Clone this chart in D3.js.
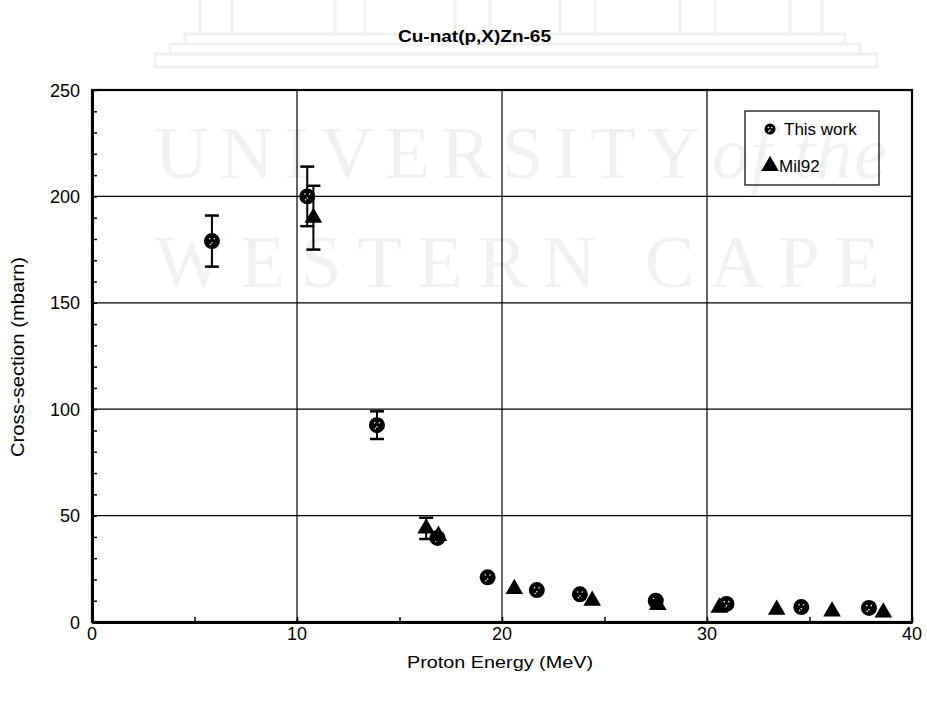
<!DOCTYPE html>
<html>
<head>
<meta charset="utf-8">
<script src="https://cdn.jsdelivr.net/npm/d3@7/dist/d3.min.js"></script>
<style>
  html, body { margin: 0; padding: 0; background: #fff; }
  svg { display: block; }
  text { font-family: Arial, "Liberation Sans", sans-serif; fill: #000; }
  text.wm { font-family: "Liberation Serif", "DejaVu Serif", serif; fill: #f1f1f4; }
</style>
</head>
<body>
<svg id="chart" width="927" height="704"></svg>
<script>
// Cu-nat(p,X)Zn-65 excitation function
const chartTitle = "Cu-nat(p,X)Zn-65";
const xTitle = "Proton Energy (MeV)";
const yTitle = "Cross-section (mbarn)";

const xTicks = [0, 10, 20, 30, 40];
const yTicks = [0, 50, 100, 150, 200, 250];

// This work: energy (MeV), cross-section (mbarn), uncertainty (mbarn)
const thisWorkE   = [5.85, 10.5, 13.9, 16.85, 19.3, 21.7, 23.8, 27.5, 30.95, 34.6, 37.9];
const thisWorkXS  = [179, 200, 92.5, 39.5, 21, 15, 13, 10, 8.5, 7, 6.6];
const thisWorkErr = [12, 14, 6.5, 0, 0, 0, 0, 0, 0, 0, 0];

// Mil92
const milE   = [10.8, 16.3, 16.9, 20.6, 24.4, 27.6, 30.6, 33.4, 36.1, 38.6];
const milXS  = [190, 44, 40.5, 15.5, 10, 8, 6.8, 5.8, 5, 4.5];
const milErr = [15, 5, 0, 0, 0, 0, 0, 0, 0, 0];

const legendLabels = ["This work", "Mil92"];

const svg = d3.select("#chart");
const plot = { left: 92, right: 912, top: 90, bottom: 622 };

const x = d3.scaleLinear().domain([0, 40]).range([plot.left, plot.right]);
const y = d3.scaleLinear().domain([0, 250]).range([plot.bottom, plot.top]);

// faint university watermark behind the chart
const wm = svg.append("g").attr("fill", "none").attr("stroke", "#f1f1f4").attr("stroke-width", 3);
[[200, 232], [335, 365], [455, 490], [560, 595], [680, 715], [790, 822]].forEach(([a, b]) => {
  wm.append("line").attr("x1", a).attr("x2", a).attr("y1", 0).attr("y2", 34);
  wm.append("line").attr("x1", b).attr("x2", b).attr("y1", 0).attr("y2", 34);
});
wm.append("rect").attr("x", 185).attr("y", 34).attr("width", 660).attr("height", 10);
wm.append("rect").attr("x", 170).attr("y", 44).attr("width", 690).attr("height", 10);
wm.append("rect").attr("x", 155).attr("y", 54).attr("width", 722).attr("height", 13);

const wmText = svg.append("g");
wmText.append("text").attr("class", "wm").attr("x", 155).attr("y", 178).attr("textLength", 545)
  .attr("lengthAdjust", "spacing").style("font-size", "74px").text("UNIVERSITY");
wmText.append("text").attr("class", "wm").attr("x", 712).attr("y", 178).attr("textLength", 175)
  .attr("lengthAdjust", "spacing").style("font-size", "74px").style("font-style", "italic").text("of the");
wmText.append("text").attr("class", "wm").attr("x", 155).attr("y", 287).attr("textLength", 725)
  .attr("lengthAdjust", "spacing").style("font-size", "74px").text("WESTERN  CAPE");

// gridlines
const grid = svg.append("g").attr("stroke", "#000").attr("stroke-width", 1.2);
[10, 20, 30].forEach(v => {
  grid.append("line").attr("x1", x(v)).attr("x2", x(v)).attr("y1", plot.top).attr("y2", plot.bottom);
});
[50, 100, 150, 200].forEach(v => {
  grid.append("line").attr("x1", plot.left).attr("x2", plot.right).attr("y1", y(v)).attr("y2", y(v));
});

// plot frame
svg.append("rect")
  .attr("x", plot.left).attr("y", plot.top)
  .attr("width", plot.right - plot.left).attr("height", plot.bottom - plot.top)
  .attr("fill", "none").attr("stroke", "#000").attr("stroke-width", 2.2);

// axes with inward minor ticks
const xAxis = d3.axisBottom(x).tickValues(d3.range(0, 41, 5)).tickSizeInner(-5).tickSizeOuter(0).tickFormat("");
svg.append("g").attr("transform", `translate(0,${plot.bottom})`).call(xAxis)
  .call(g => g.select(".domain").attr("stroke-width", 3))
  .call(g => g.selectAll(".tick line").attr("stroke-width", 1.5));

const yAxis = d3.axisLeft(y).tickValues(d3.range(0, 251, 10)).tickSizeInner(-5).tickSizeOuter(0).tickFormat("");
svg.append("g").attr("transform", `translate(${plot.left},0)`).call(yAxis)
  .call(g => g.select(".domain").attr("stroke-width", 3))
  .call(g => g.selectAll(".tick line").attr("stroke-width", 1.5));

// tick labels
svg.append("g").selectAll("text").data(xTicks).join("text")
  .attr("x", d => x(d)).attr("y", 640).attr("text-anchor", "middle")
  .style("font-size", "18px").text(d => d);
svg.append("g").selectAll("text").data(yTicks).join("text")
  .attr("x", 80).attr("y", d => y(d) + 6.5).attr("text-anchor", "end")
  .style("font-size", "18px").text(d => d);

// titles
svg.append("text").attr("x", 398).attr("y", 42).attr("textLength", 153).attr("lengthAdjust", "spacingAndGlyphs")
  .style("font-size", "16px").style("font-weight", "bold").text(chartTitle);
svg.append("text").attr("x", 407).attr("y", 668).attr("textLength", 186).attr("lengthAdjust", "spacingAndGlyphs")
  .style("font-size", "17px").text(xTitle);
svg.append("text").attr("transform", "translate(24,457) rotate(-90)")
  .attr("textLength", 200).attr("lengthAdjust", "spacingAndGlyphs")
  .style("font-size", "18px").text(yTitle);

// marker helpers
function circleMarker(g, cx, cy, r) {
  g.append("circle").attr("cx", cx).attr("cy", cy).attr("r", r).attr("fill", "#000");
  [[-2, -2], [2, -2], [0, 1.5], [-1.5, 3]].forEach(([dx, dy]) => {
    g.append("circle").attr("cx", cx + dx * r / 7).attr("cy", cy + dy * r / 7).attr("r", 0.8).attr("fill", "#fff");
  });
}
const triPath = d3.symbol().type(d3.symbolTriangle).size(135);
function triMarker(g, cx, cy) {
  g.append("path").attr("d", triPath()).attr("transform", `translate(${cx},${cy})`).attr("fill", "#000");
}
function errorBar(g, cx, v, e) {
  if (!e) return;
  const y1 = y(v + e), y2 = y(v - e);
  g.append("line").attr("x1", cx).attr("x2", cx).attr("y1", y1).attr("y2", y2)
    .attr("stroke", "#000").attr("stroke-width", 2);
  [y1, y2].forEach(yy => g.append("line").attr("x1", cx - 7).attr("x2", cx + 7)
    .attr("y1", yy).attr("y2", yy).attr("stroke", "#000").attr("stroke-width", 2.5));
}

const pts = svg.append("g");
thisWorkE.forEach((e, i) => errorBar(pts, x(e), thisWorkXS[i], thisWorkErr[i]));
milE.forEach((e, i) => errorBar(pts, x(e), milXS[i], milErr[i]));
thisWorkE.forEach((e, i) => circleMarker(pts, x(e), y(thisWorkXS[i]), 8));
milE.forEach((e, i) => triMarker(pts, x(e), y(milXS[i])));

// legend (transparent box)
const lg = svg.append("g");
lg.append("rect").attr("x", 745).attr("y", 111).attr("width", 134).attr("height", 74)
  .attr("fill", "none").attr("stroke", "#000").attr("stroke-width", 1.2);
circleMarker(lg, 770, 129, 5.5);
lg.append("text").attr("x", 784).attr("y", 135).style("font-size", "17px").text(legendLabels[0]);
triMarker(lg, 770, 166);
lg.append("text").attr("x", 779).attr("y", 172).style("font-size", "17px").text(legendLabels[1]);
</script>
</body>
</html>
